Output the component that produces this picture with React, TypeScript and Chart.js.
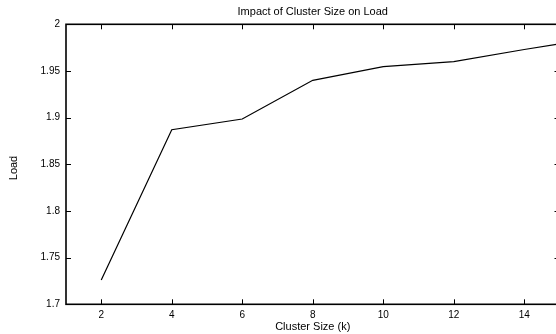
import React, { useEffect, useRef } from "react";
import { Chart, registerables } from "chart.js";

Chart.register(...registerables);

const CLUSTER_SIZES = [2, 4, 6, 8, 10, 12, 14, 15];
const LOAD_VALUES = [1.726, 1.887, 1.8985, 1.94, 1.9546, 1.96, 1.973, 1.979];
const X_TICKS = [2, 4, 6, 8, 10, 12, 14];
const Y_TICKS = [1.7, 1.75, 1.8, 1.85, 1.9, 1.95, 2];
const X_MIN = 1;
const X_MAX = 15;
const Y_MIN = 1.7;
const Y_MAX = 2;
const TITLE = "Impact of Cluster Size on Load";
const X_LABEL = "Cluster Size (k)";
const Y_LABEL = "Load";

const FONT = "'Liberation Sans', Arial, Helvetica, sans-serif";

const gnuplotFrame = {
  id: "gnuplotFrame",
  afterDraw(chart: any) {
    const { ctx, chartArea } = chart;
    const { left, right, top, bottom } = chartArea;
    const xs = chart.scales.x;
    const ys = chart.scales.y;
    const tl = 5;
    ctx.save();
    ctx.strokeStyle = "#000";
    ctx.lineWidth = 1;
    ctx.beginPath();
    X_TICKS.forEach((v) => {
      const px = Math.round(xs.getPixelForValue(v)) + 0.5;
      ctx.moveTo(px, bottom);
      ctx.lineTo(px, bottom - tl);
      ctx.moveTo(px, top);
      ctx.lineTo(px, top + tl);
    });
    Y_TICKS.forEach((v) => {
      const py = Math.round(ys.getPixelForValue(v)) + 0.5;
      ctx.moveTo(left, py);
      ctx.lineTo(left + tl, py);
      ctx.moveTo(right, py);
      ctx.lineTo(right - tl, py);
    });
    ctx.stroke();
    ctx.lineWidth = 1.6;
    ctx.strokeRect(left, top, right - left, bottom - top);

    ctx.fillStyle = "#000";
    ctx.font = `11px ${FONT}`;
    ctx.textAlign = "center";
    ctx.textBaseline = "middle";
    const cx = (left + right) / 2;
    ctx.fillText(TITLE, cx, 12);
    ctx.fillText(X_LABEL, cx, 327);
    ctx.translate(14, 168);
    ctx.rotate(-Math.PI / 2);
    ctx.fillText(Y_LABEL, 0, 0);
    ctx.restore();
  },
};

export default function App() {
  const ref = useRef<HTMLCanvasElement>(null);

  useEffect(() => {
    if (!ref.current) return;
    const chart = new Chart(ref.current, {
      type: "line",
      data: {
        datasets: [
          {
            data: CLUSTER_SIZES.map((x, i) => ({ x, y: LOAD_VALUES[i] })),
            borderColor: "#000",
            borderWidth: 1.2,
            pointRadius: 0,
            tension: 0,
            fill: false,
          },
        ],
      },
      options: {
        animation: false,
        responsive: false,
        devicePixelRatio: 1,
        layout: { padding: { left: 0, right: 4.5, top: 24.3, bottom: 0 } },
        plugins: {
          legend: { display: false },
          title: { display: false },
          tooltip: { enabled: false },
        },
        scales: {
          x: {
            type: "linear",
            min: X_MIN,
            max: X_MAX,
            border: { display: false },
            grid: { display: false, drawTicks: false },
            afterBuildTicks: (s: any) => {
              s.ticks = X_TICKS.map((v) => ({ value: v }));
            },
            afterFit: (s: any) => {
              s.height = 29.7;
            },
            ticks: {
              color: "#000",
              padding: 5,
              maxRotation: 0,
              autoSkip: false,
              font: { family: FONT, size: 10 },
              callback: (v: any) => String(v),
            },
          },
          y: {
            type: "linear",
            min: Y_MIN,
            max: Y_MAX,
            border: { display: false },
            grid: { display: false, drawTicks: false },
            afterBuildTicks: (s: any) => {
              s.ticks = Y_TICKS.map((v) => ({ value: v }));
            },
            afterFit: (s: any) => {
              s.width = 66;
            },
            ticks: {
              color: "#000",
              padding: 6,
              autoSkip: false,
              font: { family: FONT, size: 10 },
              callback: (v: any) => String(Number(Number(v).toFixed(2))),
            },
          },
        },
      },
      plugins: [gnuplotFrame],
    });
    return () => chart.destroy();
  }, []);

  return (
    <div
      style={{
        position: "absolute",
        left: 0,
        top: 0,
        width: 556,
        height: 334,
        overflow: "hidden",
        background: "#fff",
      }}
    >
      <canvas ref={ref} width={564} height={334} style={{ width: 564, height: 334, display: "block" }} />
    </div>
  );
}
